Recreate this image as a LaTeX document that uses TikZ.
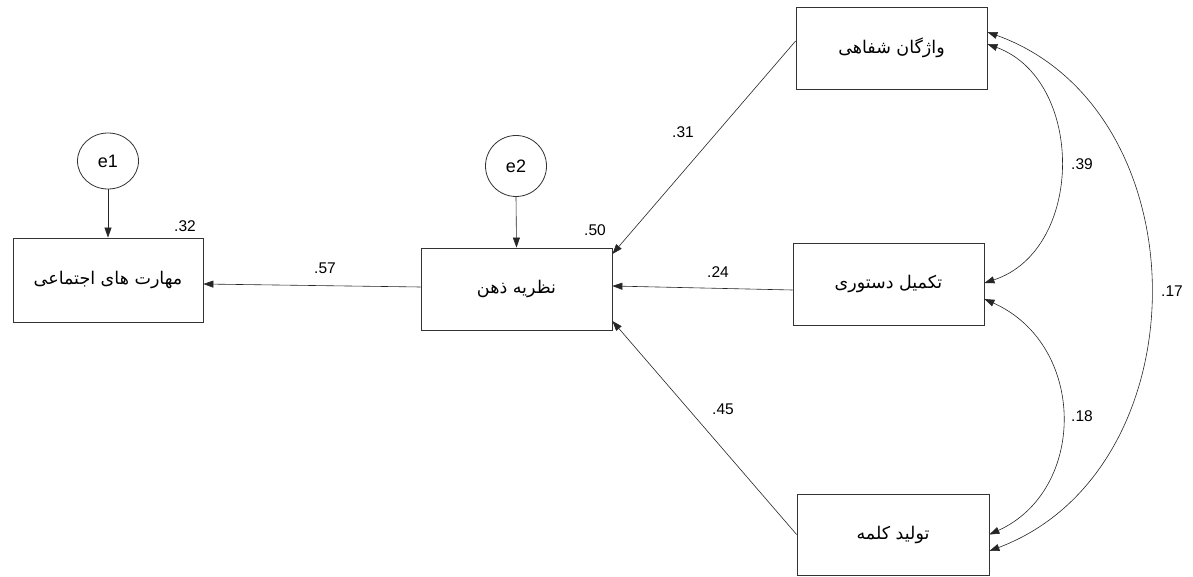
\documentclass[tikz,border=0pt]{standalone}
\usepackage{fontspec}
\setmainfont{Liberation Sans}
\newfontfamily\fa[Script=Arabic]{DejaVu Sans}
\TeXXeTstate=1
\usetikzlibrary{arrows.meta,shapes.geometric}
\begin{document}
\begin{tikzpicture}[x=1pt,y=-1pt,
  box/.style={draw=black!80,line width=0.8pt,rectangle,inner sep=0pt,font=\fa\fontsize{17.5}{20}\selectfont},
  errc/.style={draw=black!80,line width=0.8pt,ellipse,inner sep=0pt,font=\fontsize{18}{20}\selectfont},
  pth/.style={draw=black!85,line width=0.6pt,-{Triangle[length=10pt,width=7pt]}},
  cov/.style={draw=black!85,line width=0.6pt,{Triangle[length=10pt,width=7pt]}-{Triangle[length=10pt,width=7pt]}},
  lab/.style={font=\fontsize{15.5}{17}\selectfont,inner sep=0pt}]
\fill[white] (0,0) rectangle (1193,577);
\useasboundingbox (0,0) rectangle (1193,577);
% boxes
\node[box,minimum width=190pt,minimum height=84pt] (L) at (108,280) {\beginR مهارت های اجتماعی\endR};
\node[box,minimum width=191pt,minimum height=82pt] (M) at (516.5,289) {\beginR نظریه ذهن\endR};
\node[box,minimum width=191pt,minimum height=82pt] (T) at (891.5,48) {\beginR واژگان شفاهی\endR};
\node[box,minimum width=191pt,minimum height=82pt] (C) at (888.5,284) {\beginR تکمیل دستوری\endR};
\node[box,minimum width=192pt,minimum height=81pt] (B) at (893,534.5) {\beginR تولید کلمه\endR};
% error terms
\node[errc,minimum width=61pt,minimum height=56pt] (e1) at (108,161) {e1};
\node[errc,minimum width=61pt,minimum height=61pt] (e2) at (516,166) {e2};
% paths
\draw[pth] (e1.south) -- (L.north);
\draw[pth] (e2.south) -- (M.north);
\draw[pth] ([yshift=2pt]M.west) -- ([yshift=-4pt]L.east);
\draw[pth] ([yshift=7pt]T.west) -- ([yshift=35pt]M.east);
\draw[pth] ([yshift=-6pt]C.west) -- ([yshift=3pt]M.east);
\draw[pth] (B.west) -- ([yshift=-32pt]M.east);
% covariances
\draw[cov] ([yshift=4pt]T.east) .. controls (1085,80) and (1085,250) .. ([yshift=1pt]C.east);
\draw[cov] ([yshift=-15pt]C.east) .. controls (1087,345) and (1087,490) .. (B.east);
\draw[cov] ([yshift=16pt]T.east) .. controls (1204,110) and (1204,470) .. ([yshift=-16.5pt]B.east);
% labels
\node[lab] (l32) at (185,226) {.32};
\node[lab] (l50) at (595,230) {.50};
\node[lab] (l57) at (325,268) {.57};
\node[lab] (l31) at (683,132) {.31};
\node[lab] (l24) at (718,272) {.24};
\node[lab] (l45) at (723,409) {.45};
\node[lab] (l39) at (1082,164) {.39};
\node[lab] (l18) at (1082,416) {.18};
\node[lab] (l17) at (1172,291) {.17};
\end{tikzpicture}
\end{document}
